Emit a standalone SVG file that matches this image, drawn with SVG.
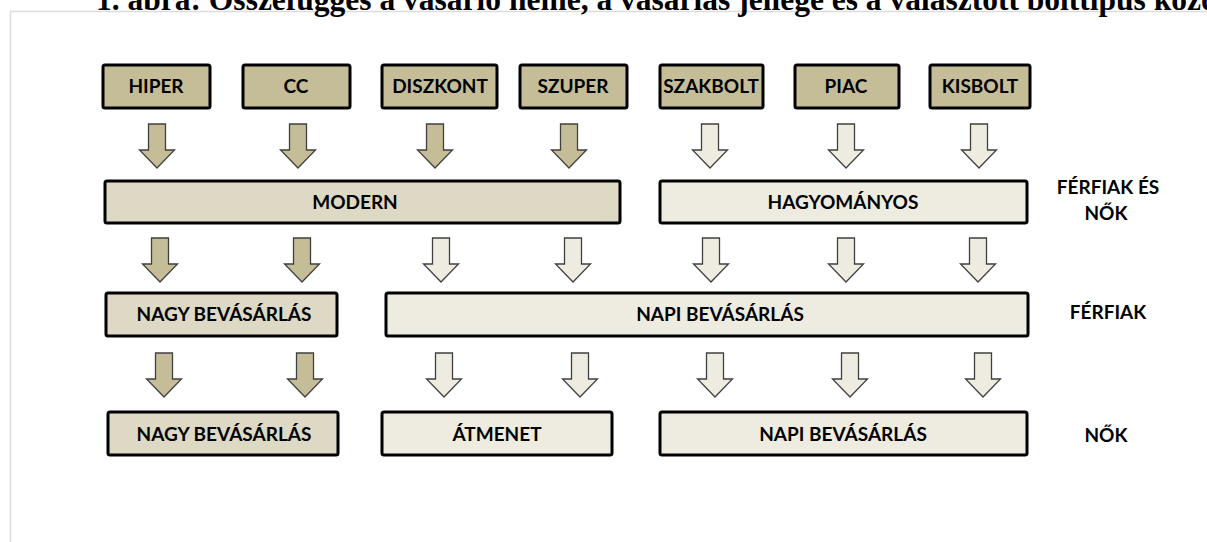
<svg xmlns="http://www.w3.org/2000/svg" width="1207" height="542" viewBox="0 0 1207 542">
<style>
.bx{stroke:#000;stroke-width:3}
.dark{fill:#C4BD97}
.mid{fill:#DDD9C4}
.light{fill:#EEECE1}
.t{font-family:Lato,"Open Sans","Liberation Sans",sans-serif;font-weight:bold;font-size:19px;fill:#000;text-anchor:middle}
.ar{stroke:#404040;stroke-width:1.3;stroke-linejoin:miter}
.title{font-family:"Liberation Serif","Times New Roman",serif;font-weight:bold;font-size:31.5px;fill:#000}
</style>
<defs>
<path id="arrow" d="M-8.5,0 H8.5 V26 H17.5 L0,44 L-17.5,26 H-8.5 Z"/>
</defs>
<rect width="1207" height="542" fill="#fff"/>
<path d="M10.5,542 V11.5 H1207" fill="none" stroke="#dcdcdc" stroke-width="1.5"/>
<text class="title" x="96" y="10">1. ábra: Összefüggés a vásárló neme, a vásárlás jellege és a választott bolttípus közö</text>

<g id="hiper"><rect class="bx dark" x="103" y="65" width="107" height="43" rx="2"/><text class="t" x="156" y="93">HIPER</text></g>
<g id="cc"><rect class="bx dark" x="243" y="65" width="107" height="43" rx="2"/><text class="t" x="296" y="93">CC</text></g>
<g id="diszkont"><rect class="bx dark" x="382" y="65" width="115" height="43" rx="2"/><text class="t" x="440" y="93">DISZKONT</text></g>
<g id="szuper"><rect class="bx dark" x="520" y="65" width="107" height="43" rx="2"/><text class="t" x="573" y="93">SZUPER</text></g>
<g id="szakbolt"><rect class="bx dark" x="660" y="65" width="103" height="43" rx="2"/><text class="t" x="711" y="93">SZAKBOLT</text></g>
<g id="piac"><rect class="bx dark" x="795" y="65" width="104" height="43" rx="2"/><text class="t" x="846" y="93">PIAC</text></g>
<g id="kisbolt"><rect class="bx dark" x="930" y="65" width="100" height="43" rx="2"/><text class="t" x="980" y="93">KISBOLT</text></g>

<g id="modern"><rect class="bx mid" x="105" y="181" width="515" height="42" rx="2"/><text class="t" x="355" y="209">MODERN</text></g>
<g id="hagyomanyos"><rect class="bx light" x="660" y="181" width="367" height="42" rx="2"/><text class="t" x="843" y="209">HAGYOMÁNYOS</text></g>

<g id="nagy1"><rect class="bx mid" x="106" y="293" width="231" height="43" rx="2"/><text class="t" x="224" y="321">NAGY BEVÁSÁRLÁS</text></g>
<g id="napi1"><rect class="bx light" x="386" y="293" width="642" height="43" rx="2"/><text class="t" x="720" y="321">NAPI BEVÁSÁRLÁS</text></g>

<g id="nagy2"><rect class="bx mid" x="108" y="412" width="230" height="43" rx="2"/><text class="t" x="224" y="441">NAGY BEVÁSÁRLÁS</text></g>
<g id="atmenet"><rect class="bx light" x="382" y="412" width="230" height="43" rx="2"/><text class="t" x="497" y="441">ÁTMENET</text></g>
<g id="napi2"><rect class="bx light" x="660" y="412" width="367" height="43" rx="2"/><text class="t" x="843" y="441">NAPI BEVÁSÁRLÁS</text></g>

<g id="label-ferfiak-es-nok"><text class="t" x="1108" y="194">FÉRFIAK ÉS</text><text class="t" x="1106" y="220">NŐK</text></g>
<g id="label-ferfiak"><text class="t" x="1108" y="319">FÉRFIAK</text></g>
<g id="label-nok"><text class="t" x="1106" y="442">NŐK</text></g>

<g id="connectors">
<use href="#arrow" class="ar dark" x="157" y="124"/>
<use href="#arrow" class="ar dark" x="298" y="124"/>
<use href="#arrow" class="ar dark" x="435" y="124"/>
<use href="#arrow" class="ar dark" x="569" y="124"/>
<use href="#arrow" class="ar light" x="710" y="124"/>
<use href="#arrow" class="ar light" x="846" y="124"/>
<use href="#arrow" class="ar light" x="979" y="124"/>

<use href="#arrow" class="ar dark" x="160" y="238"/>
<use href="#arrow" class="ar dark" x="302" y="238"/>
<use href="#arrow" class="ar light" x="441" y="238"/>
<use href="#arrow" class="ar light" x="573" y="238"/>
<use href="#arrow" class="ar light" x="711" y="238"/>
<use href="#arrow" class="ar light" x="846" y="238"/>
<use href="#arrow" class="ar light" x="978" y="238"/>

<use href="#arrow" class="ar dark" x="164" y="353"/>
<use href="#arrow" class="ar dark" x="305" y="353"/>
<use href="#arrow" class="ar light" x="444" y="353"/>
<use href="#arrow" class="ar light" x="580" y="353"/>
<use href="#arrow" class="ar light" x="715" y="353"/>
<use href="#arrow" class="ar light" x="850" y="353"/>
<use href="#arrow" class="ar light" x="983" y="353"/>
</g>
</svg>
